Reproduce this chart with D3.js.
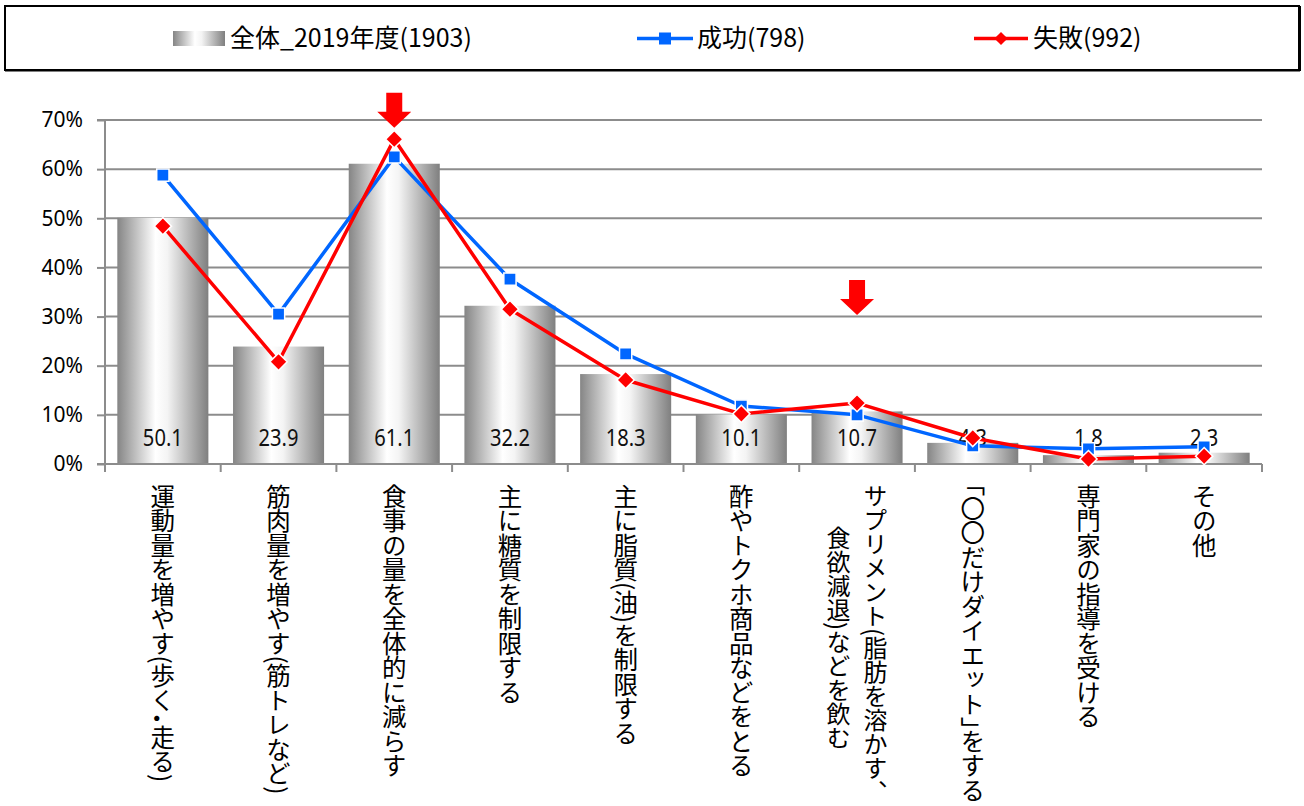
<!DOCTYPE html>
<html><head><meta charset="utf-8">
<script src="https://cdn.jsdelivr.net/npm/d3@7"></script>
<style>
html,body{margin:0;padding:0;background:#fff;}
svg{display:block;}
.half{font-feature-settings:"vhal" 1, "halt" 1;}
</style></head>
<body>
<svg id="chart" width="1304" height="806"></svg>
<script>
const categories = [
  ["運動量を増やす(歩く・走る)"],
  ["筋肉量を増やす(筋トレなど)"],
  ["食事の量を全体的に減らす"],
  ["主に糖質を制限する"],
  ["主に脂質(油)を制限する"],
  ["酢やトクホ商品などをとる"],
  ["サプリメント(脂肪を溶かす、", "食欲減退)などを飲む"],
  ["「〇〇だけダイエット」をする"],
  ["専門家の指導を受ける"],
  ["その他"]
];
const total2019 = [50.1, 23.9, 61.1, 32.2, 18.3, 10.1, 10.7, 4.3, 1.8, 2.3];
const success = [58.8, 30.5, 62.5, 37.6, 22.4, 11.8, 10.0, 3.7, 3.1, 3.5];
const failure = [48.4, 20.8, 66.1, 31.5, 17.1, 10.2, 12.4, 5.3, 1.0, 1.6];
const yTicks = [0, 10, 20, 30, 40, 50, 60, 70];
const legendLabels = ["全体_2019年度(1903)", "成功(798)", "失敗(992)"];
const arrows = [{cat: 2, at: 68.4}, {cat: 6, at: 30.3}];

(function () {
const svg = d3.select("#chart");
const FONT = "'Noto Sans CJK JP','Noto Sans',sans-serif";
const pLeft = 105, pRight = 1262, pTop = 120, pBottom = 464;
const keys = categories.map((c, i) => i);

const x = d3.scaleBand().domain(keys).range([pLeft, pRight]).paddingInner(0.213).paddingOuter(0.1065);
const step = x.step();
const y = d3.scaleLinear().domain([0, 70]).range([pBottom, pTop]);

// gradient
const defs = svg.append("defs");
const g = defs.append("linearGradient").attr("id", "barGrad").attr("x1", "0").attr("x2", "1").attr("y1", "0").attr("y2", "0");
g.append("stop").attr("offset", "0").attr("stop-color", "#858585");
g.append("stop").attr("offset", "0.42").attr("stop-color", "#ffffff");
g.append("stop").attr("offset", "0.55").attr("stop-color", "#f4f4f4");
g.append("stop").attr("offset", "1").attr("stop-color", "#7f7f7f");

// legend box
svg.append("rect").attr("x", 5).attr("y", 6).attr("width", 1294).attr("height", 64)
  .attr("fill", "#fff").attr("stroke", "#000").attr("stroke-width", 2);
svg.append("line").attr("x1", 5).attr("x2", 1300).attr("y1", 70.5).attr("y2", 70.5).attr("stroke", "#000").attr("stroke-width", 2);
svg.append("line").attr("x1", 1300).attr("x2", 1300).attr("y1", 6).attr("y2", 71).attr("stroke", "#000").attr("stroke-width", 2);

const leg = svg.append("g");
leg.append("rect").attr("x", 173).attr("y", 31).attr("width", 52).attr("height", 15).attr("fill", "url(#barGrad)");
leg.append("text").attr("x", 230).attr("y", 47).text(legendLabels[0]);
leg.append("line").attr("x1", 637).attr("x2", 693).attr("y1", 38.5).attr("y2", 38.5).attr("stroke", "#0066ff").attr("stroke-width", 3.5);
leg.append("rect").attr("x", 659).attr("y", 32.5).attr("width", 12).attr("height", 12).attr("fill", "#0066ff");
leg.append("text").attr("x", 697).attr("y", 47).text(legendLabels[1]);
leg.append("line").attr("x1", 974).attr("x2", 1028).attr("y1", 38.5).attr("y2", 38.5).attr("stroke", "#ff0000").attr("stroke-width", 3.5);
leg.append("path").attr("d", d3.symbol(d3.symbolDiamond2, 110)()).attr("transform", "translate(1001,38.5)").attr("fill", "#ff0000");
leg.append("text").attr("x", 1033).attr("y", 47).text(legendLabels[2]);
leg.selectAll("text").attr("font-family", FONT).attr("font-size", 25).attr("fill", "#000");

// gridlines
svg.append("g").selectAll("line").data(yTicks.filter(t => t > 0)).join("line")
  .attr("x1", pLeft).attr("x2", pRight).attr("y1", d => y(d)).attr("y2", d => y(d))
  .attr("stroke", "#8c8c8c").attr("stroke-width", 2);

// bars
svg.append("g").selectAll("rect").data(total2019).join("rect")
  .attr("x", (d, i) => x(i)).attr("width", x.bandwidth())
  .attr("y", d => y(d)).attr("height", d => y(0) - y(d))
  .attr("fill", "url(#barGrad)");

// y axis
const yAxis = svg.append("g").attr("transform", `translate(${pLeft},0)`)
  .call(d3.axisLeft(y).tickValues(yTicks).tickSize(8).tickPadding(14).tickFormat(d => d + "%"));
yAxis.select(".domain").attr("stroke", "#8c8c8c").attr("stroke-width", 2).attr("d", `M-8,${y(70)}H0V${y(0)}H-8`);
yAxis.selectAll(".tick line").attr("stroke", "#8c8c8c").attr("stroke-width", 2);
yAxis.selectAll(".tick text").attr("font-family", "'Noto Sans',sans-serif").attr("font-size", 21).attr("fill", "#000");

// x axis line & ticks at boundaries
svg.append("line").attr("x1", pLeft).attr("x2", pRight).attr("y1", y(0)).attr("y2", y(0)).attr("stroke", "#8c8c8c").attr("stroke-width", 2);
const bounds = d3.range(categories.length + 1).map(i => pLeft + i * step);
svg.append("g").selectAll("line").data(bounds).join("line")
  .attr("x1", d => d).attr("x2", d => d).attr("y1", y(0)).attr("y2", y(0) + 8)
  .attr("stroke", "#8c8c8c").attr("stroke-width", 2);

// bar labels
svg.append("g").selectAll("text").data(total2019).join("text")
  .attr("transform", (d, i) => `translate(${x(i) + x.bandwidth() / 2},${y(0) - 18}) scale(0.84,1)`)
  .attr("text-anchor", "middle").attr("font-family", "'Noto Sans',sans-serif").attr("font-size", 24).attr("fill", "#111")
  .text(d => d.toFixed(1));

// lines
function series(data, color, sym, size) {
  const line = d3.line().x((d, i) => x(i) + x.bandwidth() / 2).y(d => y(d));
  svg.append("path").datum(data).attr("d", line).attr("fill", "none").attr("stroke", color).attr("stroke-width", 3.5).attr("stroke-linejoin", "round");
  svg.append("g").selectAll("path").data(data).join("path")
    .attr("d", d3.symbol(sym, size)())
    .attr("transform", (d, i) => `translate(${x(i) + x.bandwidth() / 2},${y(d)})`)
    .attr("fill", color).attr("stroke", "#fff").attr("stroke-width", 1.5);
}
series(success, "#0066ff", d3.symbolSquare, 150);
series(failure, "#ff0000", d3.symbolDiamond2, 190);

// arrows
svg.append("g").selectAll("path").data(arrows).join("path")
  .attr("transform", d => `translate(${x(d.cat) + x.bandwidth() / 2},${y(d.at)})`)
  .attr("d", "M0,0L-17,-16L-8,-16L-8,-35L8,-35L8,-16L17,-16Z")
  .attr("fill", "#ff0000");

// x labels (vertical)
const lab = svg.append("g");
const LABEL_TOP = 484;
categories.forEach((lines, i) => {
  const cx = x(i) + x.bandwidth() / 2;
  const n = lines.length;
  const gap = 37;
  const texts = lines.map((s, j) => {
    const t = lab.append("text")
      .attr("x", cx + (n - 1) * gap / 2 - j * gap)
      .attr("y", LABEL_TOP)
      .attr("font-family", FONT).attr("font-size", n > 1 ? 24 : 24.5).attr("fill", "#000")
      .style("writing-mode", "vertical-rl").style("text-orientation", "mixed");
    // split so that brackets, commas and middle dots use half-width forms
    const parts = s.split(/([「」・、])/).filter(p => p.length);
    parts.forEach(p => {
      const ts = t.append("tspan").text(p);
      if (/^[「」・、]$/.test(p)) ts.attr("class", "half");
    });
    return t;
  });
  if (n > 1) {
    const L = texts[0].node().getComputedTextLength();
    texts.forEach(t => t.attr("text-anchor", "middle").attr("y", LABEL_TOP + L / 2));
  }
});
})();
</script>
</body></html>
